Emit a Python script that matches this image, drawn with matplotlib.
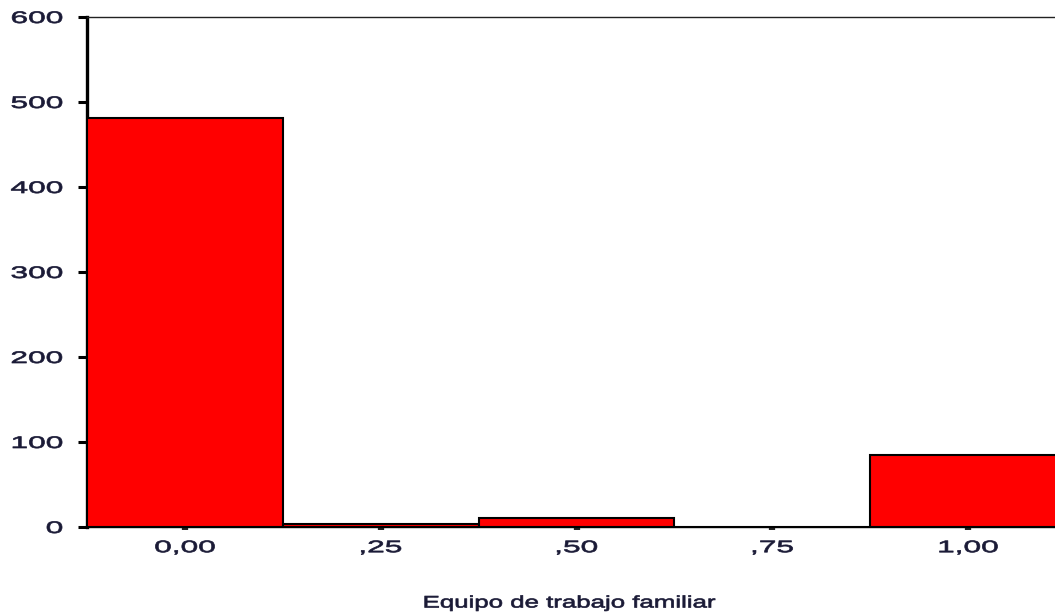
import matplotlib
matplotlib.use("Agg")
import matplotlib.pyplot as plt
from matplotlib.patheffects import AbstractPathEffect
from matplotlib.transforms import Affine2D

bin_centers = [0.0, 0.25, 0.50, 0.75, 1.00]
counts = [481, 4, 11, 0, 85]
tick_labels = ["0,00", ",25", ",50", ",75", "1,00"]
y_ticks = [0, 100, 200, 300, 400, 500, 600]
xlabel = "Equipo de trabajo familiar"


class HStretch(AbstractPathEffect):
    """Draw text wider (horizontal stretch) about an anchor, with a light stroke."""

    def __init__(self, sx, anchor="center", stroke=0.0):
        super().__init__()
        self.sx = sx
        self.anchor = anchor
        self.stroke = stroke

    def draw_path(self, renderer, gc, tpath, affine, rgbFace=None):
        ext = tpath.get_extents()
        if self.anchor == "center":
            cx = (ext.x0 + ext.x1) / 2
        elif self.anchor == "right":
            cx = ext.x1
        else:
            cx = ext.x0
        t = Affine2D().translate(-cx, 0).scale(self.sx, 1).translate(cx, 0) + affine
        gc0 = renderer.new_gc()
        gc0.copy_properties(gc)
        if self.stroke > 0 and rgbFace is not None:
            gc0.set_linewidth(self.stroke)
            gc0.set_foreground(rgbFace)
        renderer.draw_path(gc0, tpath, t, rgbFace)
        gc0.restore()


W, H = 1055, 614
fig = plt.figure(figsize=(W / 100, H / 100), dpi=100)
left, right, top, bottom = 87, 1066, 17, 527
ax = fig.add_axes([left / W, (H - bottom) / H, (right - left) / W, (bottom - top) / H])

ax.bar(bin_centers, counts, width=0.25, color="#ff0000", edgecolor="black",
       linewidth=1.5, align="center", zorder=3)

ax.set_xlim(-0.125, 1.125)
ax.set_ylim(0, 600)
ax.set_yticks(y_ticks)
ax.set_yticklabels([str(v) for v in y_ticks])
ax.set_xticks(bin_centers)
ax.set_xticklabels(tick_labels)

txt_color = "#1a1a36"
for lab in ax.get_xticklabels():
    lab.set_fontfamily("Liberation Sans")
    lab.set_fontsize(12)
    lab.set_color(txt_color)
    lab.set_path_effects([HStretch(1.9, "center", 0.5)])
for lab in ax.get_yticklabels():
    lab.set_fontfamily("Liberation Sans")
    lab.set_fontsize(12)
    lab.set_color(txt_color)
    lab.set_path_effects([HStretch(1.9, "right", 0.5)])

ax.tick_params(axis="y", length=6.5, width=2.2, pad=11, color="black")
ax.tick_params(axis="x", length=2.5, width=4.5, pad=7, color="#222222")

ax.spines["left"].set_linewidth(2.4)
ax.spines["left"].set_color("black")
ax.spines["top"].set_linewidth(1.0)
ax.spines["top"].set_color("#222222")
ax.spines["bottom"].set_linewidth(1.0)
ax.spines["bottom"].set_color("black")
ax.spines["right"].set_visible(False)

fig.text(570 / W, 1 - 603 / H, xlabel, ha="center", va="center",
         fontfamily="Liberation Sans", fontsize=12, color=txt_color,
         path_effects=[HStretch(1.55, "center", 0.5)])

fig.savefig("out.png", dpi=100)
